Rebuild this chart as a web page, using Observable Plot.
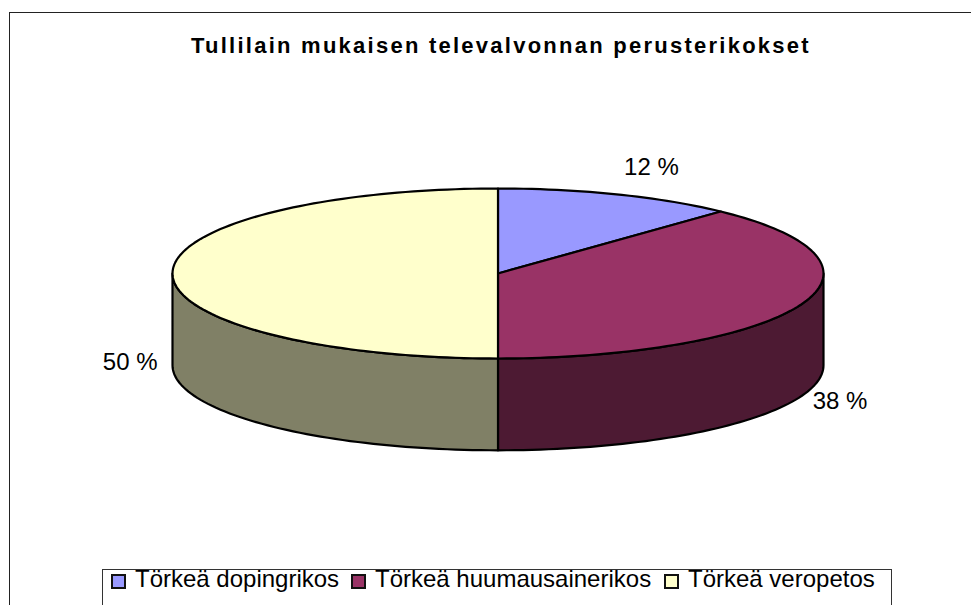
<!DOCTYPE html>
<html>
<head>
<meta charset="utf-8">
<script src="https://cdn.jsdelivr.net/npm/d3@7"></script>
<script src="https://cdn.jsdelivr.net/npm/@observablehq/plot@0.6"></script>
<style>
html,body{margin:0;padding:0;background:#fff;overflow:hidden}
#page{position:relative;width:971px;height:605px;overflow:hidden;font-family:"Liberation Sans",Arial,sans-serif;color:#000}
#page svg{position:absolute;left:0;top:0;background:transparent}
#border{position:absolute;left:9px;top:12px;width:1000px;height:620px;border:1px solid #222}
#title{position:absolute;left:191px;top:34px;font-weight:700;font-size:22px;letter-spacing:2.25px;line-height:24px;white-space:nowrap}
#legend{position:absolute;left:102px;top:569px;width:788px;height:60px;border:1px solid #333;background:#fff;font-size:24px;line-height:28px}
.item{position:absolute;top:-5px;white-space:nowrap}
.sw{position:absolute;top:4px;width:11px;height:11px;border:2px solid #111}
</style>
</head>
<body>
<div id="page">
  <div id="border"></div>
  <div id="title"></div>
  <div id="legend"></div>
</div>
<script>
const chartTitle = "Tullilain mukaisen televalvonnan perusterikokset";
const categories = ["Törkeä dopingrikos", "Törkeä huumausainerikos", "Törkeä veropetos"];
const shares = [12, 38, 50];
const topColors = ["#9999FF", "#993366", "#FFFFCC"];
const sideColors = ["#4D4D80", "#4D1A33", "#808066"];

const depth = 1.08;           // cylinder height, in units of the vertical radius
const toRad = d => d * Math.PI / 180;
const px = a => Math.sin(toRad(a));
const py = a => Math.cos(toRad(a));
const arc = (a0, a1) => {
  const n = Math.max(2, Math.ceil(Math.abs(a1 - a0) / 1.5));
  return d3.range(n + 1).map(i => a0 + (a1 - a0) * i / n);
};

let acc = 0;
const slices = shares.map((v, i) => {
  const a0 = acc * 3.6; acc += v; const a1 = acc * 3.6;
  return {i, v, a0, a1, mid: (a0 + a1) / 2};
});

const marks = [];
for (const s of slices) {
  const a0 = Math.max(s.a0, 90), a1 = Math.min(s.a1, 270);
  if (a1 <= a0) continue;
  const upper = arc(a0, a1).map(a => ({x: px(a), y: py(a)}));
  const lower = arc(a1, a0).map(a => ({x: px(a), y: py(a) - depth}));
  marks.push(Plot.line([...upper, ...lower], {
    x: "x", y: "y", curve: "linear-closed",
    fill: sideColors[s.i], stroke: "#000", strokeWidth: 2.2, strokeLinejoin: "round"
  }));
}
for (const s of slices) {
  const pts = [{x: 0, y: 0}, ...arc(s.a0, s.a1).map(a => ({x: px(a), y: py(a)}))];
  marks.push(Plot.line(pts, {
    x: "x", y: "y", curve: "linear-closed",
    fill: topColors[s.i], stroke: "#000", strokeWidth: 2.2, strokeLinejoin: "round"
  }));
}
marks.push(Plot.text(slices, {
  x: s => px(s.mid) * (s.mid < 90 ? 1.28 : 1.13),
  y: s => py(s.mid) * (s.mid < 90 ? 1.34 : 1.13) - (s.mid < 90 ? 0 : s.mid > 180 ? depth * 0.97 : depth * 1.01),
  text: s => `${s.v} %`,
  fontSize: 24,
  fontFamily: "Liberation Sans, Arial, sans-serif",
  fill: "#000"
}));

const chart = Plot.plot({
  width: 971, height: 605,
  margin: 0,
  style: {background: "transparent"},
  x: {domain: [-1, 1], range: [172, 823], axis: null},
  y: {domain: [1, -1], range: [188, 358], axis: null},
  marks
});
const page = document.getElementById("page");
page.insertBefore(chart, document.getElementById("title"));

document.getElementById("title").textContent = chartTitle;
const legend = document.getElementById("legend");
const swatchLeft = [8, 248, 561];
categories.forEach((c, i) => {
  const sw = document.createElement("div");
  sw.className = "sw";
  sw.style.left = swatchLeft[i] + "px";
  sw.style.background = topColors[i];
  legend.appendChild(sw);
  const t = document.createElement("div");
  t.className = "item";
  t.style.left = (swatchLeft[i] + 24) + "px";
  t.textContent = c;
  legend.appendChild(t);
});
</script>
</body>
</html>
